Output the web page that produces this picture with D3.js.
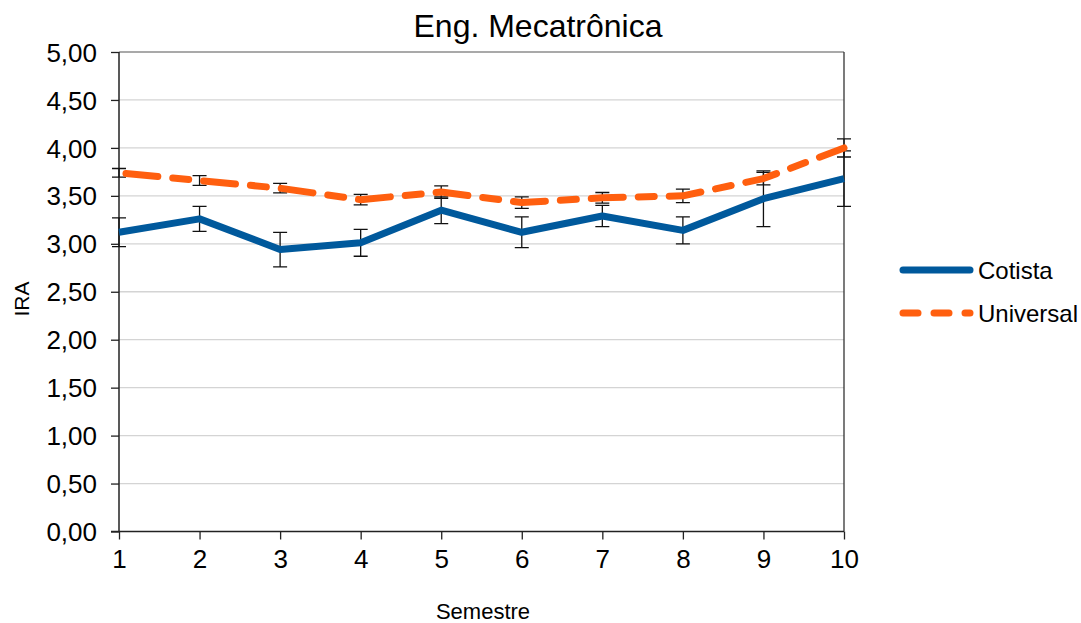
<!DOCTYPE html>
<html>
<head>
<meta charset="utf-8">
<script src="https://cdn.jsdelivr.net/npm/d3@7"></script>
<style>
  body { margin: 0; background: #fff; }
  text { font-family: "Liberation Sans", Arial, sans-serif; fill: #000; }
</style>
</head>
<body>
<div id="chart"></div>
<script>
// semestres 1..10
var semestres = [1, 2, 3, 4, 5, 6, 7, 8, 9, 10];

var cotista = [3.12, 3.26, 2.94, 3.01, 3.35, 3.12, 3.29, 3.14, 3.47, 3.68];
var cotistaErr = [0.15, 0.13, 0.18, 0.14, 0.14, 0.16, 0.11, 0.14, 0.29, 0.29];

var universal = [3.74, 3.66, 3.58, 3.46, 3.54, 3.43, 3.48, 3.50, 3.68, 4.00];
var universalErr = [0.045, 0.05, 0.05, 0.055, 0.065, 0.06, 0.055, 0.07, 0.065, 0.095];

var yTicks = [0, 0.5, 1, 1.5, 2, 2.5, 3, 3.5, 4, 4.5, 5];

var width = 1081, height = 623;
// note: "top" is taken by window.top, so plot edges get their own names
var plotL = 119, plotR = 844, plotT = 52, plotB = 531.5;

var svg = d3.select("#chart").append("svg")
    .attr("width", width)
    .attr("height", height);

var x = d3.scaleLinear().domain([1, 10]).range([plotL, plotR]);
var y = d3.scaleLinear().domain([0, 5]).range([plotB, plotT]);

var ptBR = d3.formatLocale({decimal: ",", thousands: ".", grouping: [3], currency: ["R$", ""]});
var fmt = ptBR.format(".2f");

// grid
svg.append("g")
    .selectAll("line")
    .data(yTicks.filter(function(d) { return d > 0; }))
    .enter()
    .append("line")
    .attr("x1", plotL).attr("x2", plotR)
    .attr("y1", function(d) { return y(d); })
    .attr("y2", function(d) { return y(d); })
    .style("stroke", function(d) { return d == 5 ? "#8c8c8c" : "#d4d4d4"; })
    .style("stroke-width", 1.3);

// right border
svg.append("line")
    .attr("x1", plotR).attr("x2", plotR)
    .attr("y1", plotT).attr("y2", plotB)
    .style("stroke", "#333").style("stroke-width", 1.3);

// y axis
var yAxis = svg.append("g")
    .attr("transform", "translate(" + plotL + ",0)")
    .call(d3.axisLeft(y).tickValues(yTicks).tickSize(8).tickPadding(14).tickFormat(fmt));
yAxis.select(".domain").attr("d", "M0," + plotT + "V" + plotB).style("stroke", "#222").style("stroke-width", 1.5);
yAxis.selectAll(".tick line").style("stroke", "#222").style("stroke-width", 1.3);
yAxis.selectAll(".tick text")
    .style("font-size", "26px")
    .style("font-family", "Liberation Sans, Arial, sans-serif")
    .attr("dy", "0.35em");

// x axis
var xAxis = svg.append("g")
    .attr("transform", "translate(0," + plotB + ")")
    .call(d3.axisBottom(x).tickValues(semestres).tickSize(8).tickPadding(10).tickFormat(d3.format("d")));
xAxis.select(".domain").attr("d", "M" + (plotL - 8) + ",0H" + plotR).style("stroke", "#222").style("stroke-width", 1.5);
xAxis.selectAll(".tick line").style("stroke", "#222").style("stroke-width", 1.3);
xAxis.selectAll(".tick text")
    .style("font-size", "26px")
    .style("font-family", "Liberation Sans, Arial, sans-serif");

// error bars
function errorBars(vals, errs) {
    var g = svg.append("g");
    var data = vals.map(function(v, i) { return {s: semestres[i], v: v, e: errs[i]}; });
    g.selectAll("path")
        .data(data)
        .enter()
        .append("path")
        .attr("d", function(d) {
            var cx = x(d.s), y1 = y(d.v + d.e), y2 = y(d.v - d.e);
            return "M" + cx + "," + y1 + "V" + y2 +
                "M" + (cx - 7) + "," + y1 + "H" + (cx + 7) +
                "M" + (cx - 7) + "," + y2 + "H" + (cx + 7);
        })
        .style("fill", "none")
        .style("stroke", "#111")
        .style("stroke-width", 1.3);
}
errorBars(cotista, cotistaErr);
errorBars(universal, universalErr);

var line = d3.line()
    .x(function(d, i) { return x(semestres[i]); })
    .y(function(d) { return y(d); });

svg.append("path")
    .datum(cotista)
    .attr("d", line)
    .style("fill", "none")
    .style("stroke", "#00599c")
    .style("stroke-width", 7)
    .style("stroke-linejoin", "round");

svg.append("path")
    .datum(universal)
    .attr("d", line)
    .style("fill", "none")
    .style("stroke", "#ff5f0f")
    .style("stroke-width", 7)
    .style("stroke-linecap", "round")
    .style("stroke-linejoin", "round")
    .style("stroke-dasharray", "16,15,32,15")
    .style("stroke-dashoffset", "-54");

// title and axis labels
svg.append("text")
    .attr("x", 538).attr("y", 37)
    .attr("text-anchor", "middle")
    .style("font-size", "32px")
    .text("Eng. Mecatrônica");

svg.append("text")
    .attr("x", 483).attr("y", 619)
    .attr("text-anchor", "middle")
    .style("font-size", "22px")
    .text("Semestre");

svg.append("text")
    .attr("transform", "translate(29,299) rotate(-90)")
    .attr("text-anchor", "middle")
    .style("font-size", "21px")
    .text("IRA");

// legend
var legendKeys = ["Cotista", "Universal"];
var legendColor = ["#00599c", "#ff5f0f"];
var legend = svg.append("g");
legend.selectAll("line")
    .data(legendKeys)
    .enter()
    .append("line")
    .attr("x1", 903).attr("x2", 970)
    .attr("y1", function(d, i) { return 270 + i * 43; })
    .attr("y2", function(d, i) { return 270 + i * 43; })
    .style("stroke", function(d, i) { return legendColor[i]; })
    .style("stroke-width", 7)
    .style("stroke-linecap", "round")
    .style("stroke-dasharray", function(d, i) { return i == 1 ? "15,16" : null; });
legend.selectAll("text")
    .data(legendKeys)
    .enter()
    .append("text")
    .attr("x", 978)
    .attr("y", function(d, i) { return 279 + i * 43; })
    .style("font-size", "24px")
    .text(function(d) { return d; });
</script>
</body>
</html>
